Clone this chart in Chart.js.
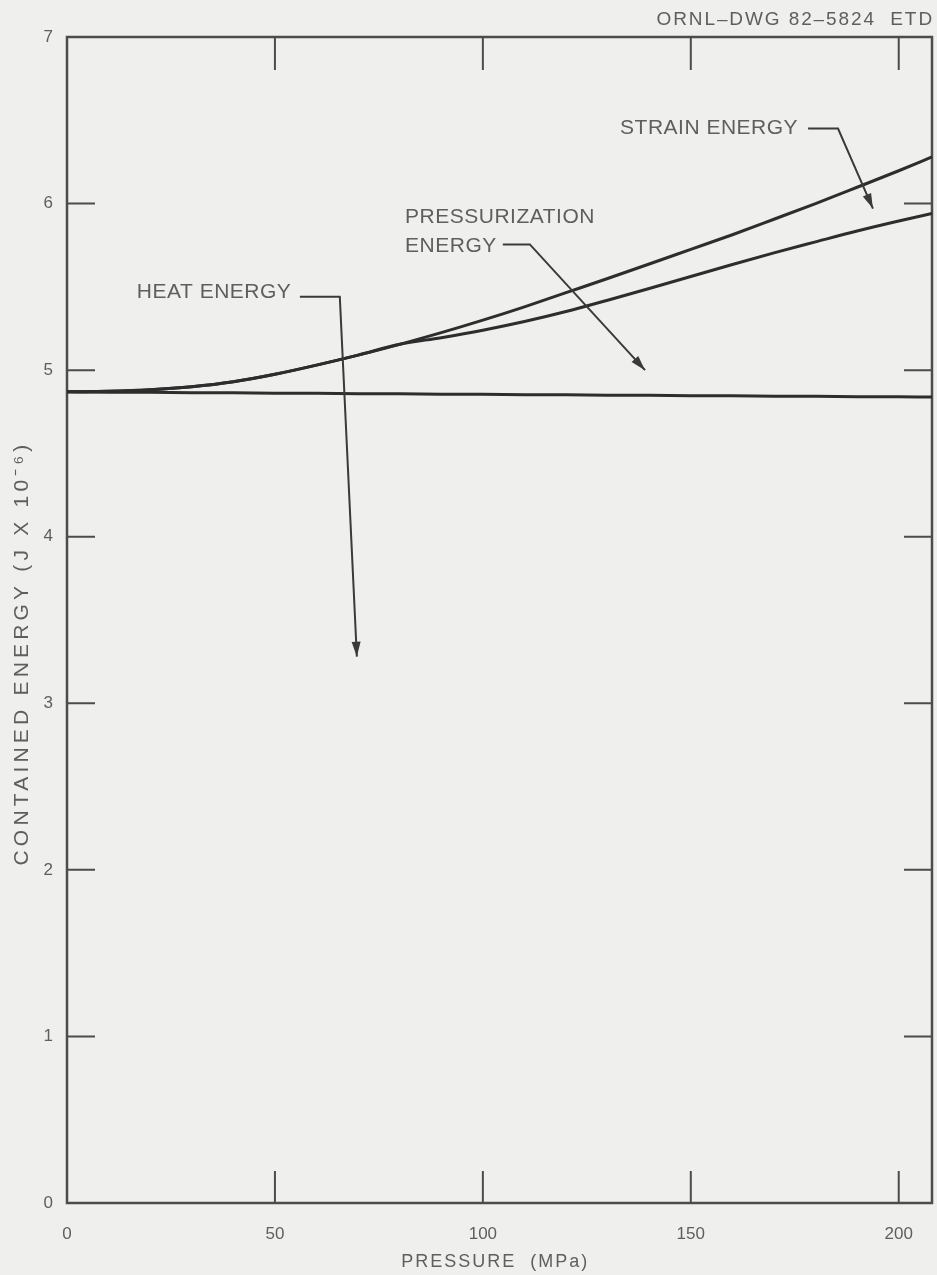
<!DOCTYPE html>
<html>
<head>
<meta charset="utf-8">
<script src="https://cdn.jsdelivr.net/npm/chart.js@4.4.1/dist/chart.umd.min.js"></script>
<style>
  html, body { margin: 0; padding: 0; background: #efefed; }
  #wrap { width: 937px; height: 1275px; position: relative; }
</style>
</head>
<body>
<div id="wrap"><canvas id="energy"></canvas></div>
<script>
// pressure (MPa) and contained energy (J x 10^-6)
const pressure = [0, 10, 20, 30, 40, 50, 60, 70, 80, 90, 100, 110, 120, 130, 140, 150, 160, 170, 180, 190, 200, 208];
const strainEnergy = [4.87, 4.873, 4.882, 4.90, 4.93, 4.975, 5.03, 5.09, 5.155, 5.225, 5.30, 5.38, 5.465, 5.55, 5.637, 5.725, 5.813, 5.906, 6.0, 6.098, 6.197, 6.28];
const pressurizationEnergy = [4.87, 4.873, 4.882, 4.90, 4.93, 4.975, 5.03, 5.09, 5.155, 5.195, 5.24, 5.292, 5.352, 5.42, 5.49, 5.562, 5.634, 5.704, 5.77, 5.835, 5.895, 5.94];
const heatEnergy = [4.87, 4.868, 4.867, 4.865, 4.864, 4.862, 4.861, 4.859, 4.858, 4.856, 4.855, 4.853, 4.852, 4.85, 4.849, 4.847, 4.846, 4.844, 4.843, 4.841, 4.84, 4.839];

const xTicks = [0, 50, 100, 150, 200];
const yTicks = [0, 1, 2, 3, 4, 5, 6, 7];

// callouts: text anchor and leader path, in data units
const callouts = [
  { lines: ['STRAIN ENERGY'], at: [133.0, 6.455], path: [[178.2, 6.45], [185.4, 6.45], [193.8, 5.97]] },
  { lines: ['PRESSURIZATION', 'ENERGY'], at: [81.3, 5.92], path: [[104.8, 5.755], [111.3, 5.755], [139.0, 5.0]] },
  { lines: ['HEAT ENERGY'], at: [16.8, 5.47], path: [[56.0, 5.44], [65.6, 5.44], [69.7, 3.28]] }
];

const INK = '#2d2d2d';
const FRAME = '#4c4c4c';
const TEXT = '#5e5e5e';
const BG = '#efefed';

const toXY = ys => pressure.map((p, i) => ({ x: p, y: ys[i] }));

function arrowHead(ctx, from, tip) {
  const ang = Math.atan2(tip[1] - from[1], tip[0] - from[0]);
  const len = 15, half = 4.5;
  ctx.save();
  ctx.translate(tip[0], tip[1]);
  ctx.rotate(ang);
  ctx.beginPath();
  ctx.moveTo(0, 0);
  ctx.lineTo(-len, -half);
  ctx.lineTo(-len, half);
  ctx.closePath();
  ctx.fill();
  ctx.restore();
}

const framePlugin = {
  id: 'frame',
  beforeDraw(chart) {
    const { ctx, width, height } = chart;
    ctx.save();
    ctx.fillStyle = BG;
    ctx.fillRect(0, 0, width, height);
    ctx.restore();
  },
  beforeDatasetsDraw(chart) {
    const { ctx, chartArea: a, scales: { x, y } } = chart;
    ctx.save();
    ctx.strokeStyle = FRAME;
    ctx.lineWidth = 2.5;
    ctx.strokeRect(a.left, a.top, a.right - a.left, a.bottom - a.top);

    // inward tick marks on all four sides
    ctx.lineWidth = 2;
    ctx.beginPath();
    yTicks.slice(1, -1).forEach(v => {
      const py = y.getPixelForValue(v);
      ctx.moveTo(a.left, py); ctx.lineTo(a.left + 28, py);
      ctx.moveTo(a.right, py); ctx.lineTo(a.right - 28, py);
    });
    xTicks.slice(1).forEach(v => {
      const px = x.getPixelForValue(v);
      ctx.moveTo(px, a.top); ctx.lineTo(px, a.top + 33);
      ctx.moveTo(px, a.bottom); ctx.lineTo(px, a.bottom - 32);
    });
    ctx.stroke();
    ctx.restore();
  },
  afterDraw(chart) {
    const { ctx, chartArea: a, scales: { x, y } } = chart;
    const P = (d) => [x.getPixelForValue(d[0]), y.getPixelForValue(d[1])];
    ctx.save();

    // callout labels and leaders
    ctx.fillStyle = TEXT;
    ctx.strokeStyle = '#3a3a3a';
    ctx.font = '21px "Liberation Sans", Arial, sans-serif';
    ctx.letterSpacing = '0.5px';
    ctx.textBaseline = 'middle';
    ctx.textAlign = 'left';
    callouts.forEach(c => {
      const [tx, ty] = P(c.at);
      c.lines.forEach((t, i) => ctx.fillText(t, tx, ty + i * 29));
      const pts = c.path.map(P);
      ctx.lineWidth = 2;
      ctx.beginPath();
      pts.forEach((p, i) => (i ? ctx.lineTo(p[0], p[1]) : ctx.moveTo(p[0], p[1])));
      ctx.stroke();
      ctx.fillStyle = '#3a3a3a';
      arrowHead(ctx, pts[pts.length - 2], pts[pts.length - 1]);
      ctx.fillStyle = TEXT;
    });

    // drawing number, top right
    ctx.font = '19px "Liberation Sans", Arial, sans-serif';
    ctx.letterSpacing = '1.9px';
    ctx.textAlign = 'right';
    ctx.fillText('ORNL\u2013DWG 82\u20135824  ETD', a.right + 2, 20);

    // y axis title
    ctx.save();
    ctx.translate(22, (a.top + a.bottom) / 2 + 33);
    ctx.rotate(-Math.PI / 2);
    ctx.textAlign = 'center';
    ctx.font = '21px "Liberation Sans Narrow", "Liberation Sans", Arial, sans-serif';
    ctx.letterSpacing = '4.2px';
    ctx.fillText('CONTAINED ENERGY (J X 10\u207B\u2076)', 0, 0);
    ctx.restore();

    // x axis title
    ctx.textAlign = 'center';
    ctx.font = '18px "Liberation Sans", Arial, sans-serif';
    ctx.letterSpacing = '2px';
    ctx.fillText('PRESSURE  (MPa)', x.getPixelForValue(103), a.bottom + 59);
    ctx.restore();
  }
};

const lineStyle = {
  borderColor: INK,
  borderWidth: 3,
  pointRadius: 0,
  fill: false,
  cubicInterpolationMode: 'monotone'
};

new Chart(document.getElementById('energy'), {
  type: 'line',
  data: {
    datasets: [
      { label: 'Strain energy', data: toXY(strainEnergy), ...lineStyle },
      { label: 'Pressurization energy', data: toXY(pressurizationEnergy), ...lineStyle },
      { label: 'Heat energy', data: toXY(heatEnergy), ...lineStyle }
    ]
  },
  options: {
    responsive: true,
    maintainAspectRatio: false,
    animation: false,
    layout: { padding: { top: 37, right: 5, left: 0, bottom: 0 } },
    plugins: { legend: { display: false }, tooltip: { enabled: false } },
    scales: {
      x: {
        type: 'linear',
        min: 0,
        max: 208,
        grid: { display: false, drawTicks: false },
        border: { display: false },
        afterBuildTicks: s => { s.ticks = xTicks.map(v => ({ value: v })); },
        afterFit: s => { s.height = 72; },
        ticks: {
          padding: 21,
          color: TEXT,
          font: { family: '"Liberation Sans", Arial, sans-serif', size: 17 },
          maxRotation: 0
        }
      },
      y: {
        min: 0,
        max: 7,
        grid: { display: false, drawTicks: false },
        border: { display: false },
        afterBuildTicks: s => { s.ticks = yTicks.map(v => ({ value: v })); },
        afterFit: s => { s.width = 67; },
        ticks: {
          padding: 14,
          color: TEXT,
          font: { family: '"Liberation Sans", Arial, sans-serif', size: 17 }
        }
      }
    }
  },
  plugins: [framePlugin]
});
</script>
</body>
</html>
